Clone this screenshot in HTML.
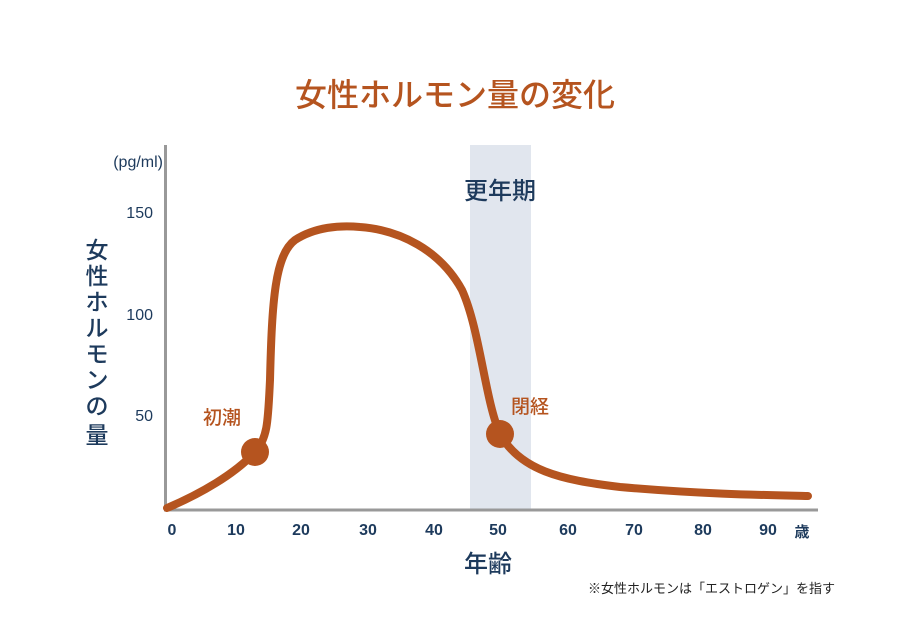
<!DOCTYPE html>
<html><head><meta charset="utf-8"><style>
body{margin:0;background:#fff;}
svg text{font-family:"Liberation Sans","Noto Sans CJK JP",sans-serif;}
</style></head><body>
<svg width="900" height="625" viewBox="0 0 900 625" xmlns="http://www.w3.org/2000/svg">
<rect width="900" height="625" fill="#fff"/>
<text x="455" y="106" text-anchor="middle" font-size="32" font-weight="500" fill="#b5541f" style="font-family:'Noto Sans CJK JP',sans-serif">女性ホルモン量の変化</text>
<rect x="470" y="145" width="61" height="365" fill="#e1e6ee"/>
<text x="500" y="199" text-anchor="middle" font-size="24" font-weight="500" fill="#1d3a5c" style="font-family:'Noto Sans CJK JP',sans-serif">更年期</text>
<line x1="165.5" y1="145" x2="165.5" y2="511" stroke="#999" stroke-width="3"/>
<line x1="164" y1="510" x2="818" y2="510" stroke="#999" stroke-width="3"/>
<g fill="#1d3a5c" font-size="16">
<text x="163" y="167" text-anchor="end">(pg/ml)</text>
<text x="153" y="218" text-anchor="end">150</text>
<text x="153" y="320" text-anchor="end">100</text>
<text x="153" y="421" text-anchor="end">50</text>
<g text-anchor="middle" font-weight="bold">
<text x="172" y="535">0</text><text x="236" y="535">10</text><text x="301" y="535">20</text><text x="368" y="535">30</text><text x="434" y="535">40</text><text x="498" y="535">50</text><text x="568" y="535">60</text><text x="634" y="535">70</text><text x="703" y="535">80</text><text x="768" y="535">90</text>
<text x="802" y="537" font-size="15" style="font-family:'Noto Sans CJK JP',sans-serif">歳</text>
</g>
</g>
<g fill="#1d3a5c" font-size="23" font-weight="500" text-anchor="middle" style="font-family:'Noto Sans CJK JP',sans-serif">
<text x="97" y="258">女</text><text x="97" y="284">性</text><text x="97" y="310">ホ</text><text x="97" y="336">ル</text><text x="97" y="362">モ</text><text x="97" y="388">ン</text><text x="97" y="414">の</text><text x="97" y="443">量</text>
<text x="488" y="572" font-size="24">年齢</text>
</g>
<text x="835" y="593" text-anchor="end" font-size="13" fill="#222" style="font-family:'Noto Sans CJK JP',sans-serif">※女性ホルモンは「エストロゲン」を指す</text>
<path d="M167,508 C200,494 235,474 255,452 C268,438 268,420 270,380 C272,300 275,255 295,240 C315,227 340,225 360,227 C400,230 440,250 462,290 C480,330 485,400 500,434 C520,470 560,480 620,487 C700,494 760,495 808,496" fill="none" stroke="#b5541f" stroke-width="8" stroke-linecap="round"/>
<circle cx="255" cy="452" r="14" fill="#b5541f"/>
<circle cx="500" cy="434" r="14" fill="#b5541f"/>
<g fill="#b5541f" font-size="19" font-weight="500" style="font-family:'Noto Sans CJK JP',sans-serif">
<text x="203" y="424">初潮</text>
<text x="511" y="413">閉経</text>
</g>
</svg>
</body></html>
